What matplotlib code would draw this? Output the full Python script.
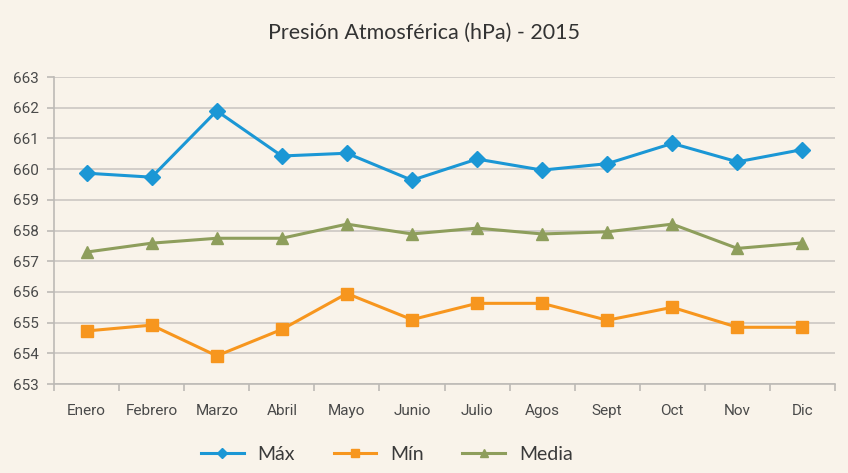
import matplotlib
matplotlib.use('Agg')
import matplotlib.pyplot as plt
import numpy as np

meses = ['Enero', 'Febrero', 'Marzo', 'Abril', 'Mayo', 'Junio', 'Julio',
         'Agos', 'Sept', 'Oct', 'Nov', 'Dic']
p_max = [659.87, 659.74, 661.90, 660.43, 660.52, 659.64, 660.33, 659.97,
         660.18, 660.84, 660.24, 660.64]
p_min = [654.73, 654.92, 653.92, 654.78, 655.95, 655.10, 655.63, 655.63,
         655.08, 655.50, 654.85, 654.85]
p_media = [657.30, 657.59, 657.75, 657.75, 658.21, 657.89, 658.08, 657.89,
           657.96, 658.21, 657.42, 657.60]

fondo = '#F9F3EA'
plt.rcParams['font.family'] = ['Lato', 'DejaVu Sans']

fig = plt.figure(figsize=(8.48, 4.73), dpi=100, facecolor=fondo)
ax = fig.add_axes([0.0637, 0.188, 0.921, 0.649], facecolor=fondo)

x = np.arange(len(meses))
ax.plot(x, p_max, color='#1B97D5', lw=2.2, marker='D', ms=8, label='Máx')
ax.plot(x, p_min, color='#F7961E', lw=2.2, marker='s', ms=9, label='Mín')
ax.plot(x, p_media, color='#8E9E5C', lw=2.2, marker='^', ms=9, label='Media')

ax.set_xlim(-0.5, len(meses) - 0.5)
ax.set_ylim(653, 663)
ax.set_yticks(np.arange(653, 664, 1))
ax.set_xticks(x)
ax.set_xticklabels(meses)
ax.set_xticks(np.arange(-0.5, len(meses), 1), minor=True)
ax.grid(True, axis='y', color='#CFCBC6', lw=1.3)
ax.set_axisbelow(True)

for s in ['top', 'right']:
    ax.spines[s].set_visible(False)
for s in ['left', 'bottom']:
    ax.spines[s].set_color('#BDBAB6')
    ax.spines[s].set_linewidth(1.2)

ax.tick_params(axis='x', which='major', length=0, pad=14, labelsize=11, labelcolor='#4A4A4A')
ax.tick_params(axis='x', which='minor', length=5, color='#BDBAB6', width=1.2)
ax.tick_params(axis='y', length=5, color='#BDBAB6', width=1.2, labelsize=11, labelcolor='#4A4A4A', pad=6)
for lab in ax.get_yticklabels() + ax.get_xticklabels():
    lab.set_family(['Roboto', 'DejaVu Sans'])

fig.text(0.5, 0.93, 'Presión Atmosférica (hPa) - 2015', ha='center', va='center',
         fontsize=15.5, color='#333333')

fig.legend(loc='center', bbox_to_anchor=(0.456, 0.04), ncol=3, frameon=False,
           fontsize=14, handlelength=2.2, columnspacing=2.0, handletextpad=0.7,
           markerscale=0.7, labelcolor='#3A3A3A')

fig.savefig('out.png', dpi=100, facecolor=fondo)
